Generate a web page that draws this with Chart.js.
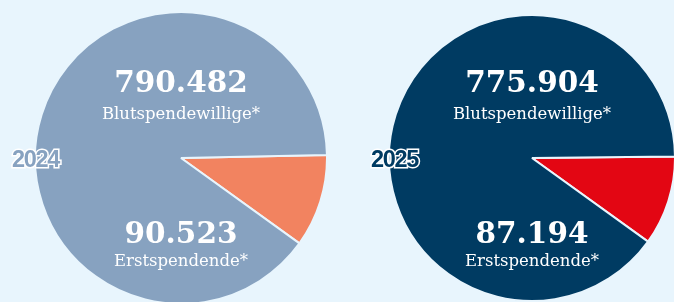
<!DOCTYPE html>
<html lang="de">
<head>
<meta charset="utf-8">
<script src="https://cdn.jsdelivr.net/npm/chart.js"></script>
<style>
    html, body { margin: 0; padding: 0; }
    body {
        width: 674px;
        height: 302px;
        overflow: hidden;
        background: #e8f5fd;
        position: relative;
        font-family: 'DejaVu Serif', serif;
    }
    .pie { position: absolute; }
    .lbl {
        position: absolute;
        width: 240px;
        margin-left: -120px;
        text-align: center;
        color: #fff;
        line-height: 1;
        white-space: nowrap;
    }
    .num { font-weight: bold; font-size: 29.5px; }
    .sub { font-size: 16.5px; font-weight: normal; }
    .year {
        position: absolute;
        font-family: 'Liberation Sans', Arial, sans-serif;
        font-weight: bold;
        font-size: 23.5px;
        letter-spacing: -1.3px;
        line-height: 1;
        -webkit-text-stroke: 3px #fff;
        paint-order: stroke fill;
    }
</style>
</head>
<body>
    <div class="pie" style="left:34px; top:11px; width:294px; height:294px;">
        <canvas id="pie2024"></canvas>
    </div>
    <div class="pie" style="left:388px; top:14px; width:288px; height:288px;">
        <canvas id="pie2025"></canvas>
    </div>

    <div class="year" style="left:12px; top:148px; color:#87a2c0;">2024</div>
    <div class="year" style="left:371px; top:148px; color:#003b62;">2025</div>

    <div class="lbl num" style="left:181px; top:67px;">790.482</div>
    <div class="lbl sub" style="left:181px; top:106px;">Blutspendewillige*</div>
    <div class="lbl num" style="left:181px; top:218px;">90.523</div>
    <div class="lbl sub" style="left:181px; top:253px;">Erstspendende*</div>

    <div class="lbl num" style="left:532px; top:67px;">775.904</div>
    <div class="lbl sub" style="left:532px; top:106px;">Blutspendewillige*</div>
    <div class="lbl num" style="left:532px; top:218px;">87.194</div>
    <div class="lbl sub" style="left:532px; top:253px;">Erstspendende*</div>

<script>
    const years = ['2024', '2025'];
    const categories = ['Erstspendende*', 'Blutspendewillige*'];
    const firstTime = [90523, 87194];
    const willing = [790482, 775904];

    const sliceColors = [
        ['#f28360', '#87a2c0'],
        ['#e30613', '#003b62']
    ];
    const rotations = [88.8, 89.4];

    years.forEach((y, i) => {
        new Chart(document.getElementById('pie' + y), {
            type: 'pie',
            data: {
                labels: categories,
                datasets: [{
                    data: [firstTime[i], willing[i]],
                    backgroundColor: sliceColors[i],
                    borderColor: '#e8f5fd',
                    borderWidth: 2
                }]
            },
            options: {
                responsive: true,
                maintainAspectRatio: false,
                animation: false,
                rotation: rotations[i],
                layout: { padding: 0 },
                plugins: {
                    legend: { display: false },
                    tooltip: { enabled: false }
                }
            }
        });
    });
</script>
</body>
</html>
